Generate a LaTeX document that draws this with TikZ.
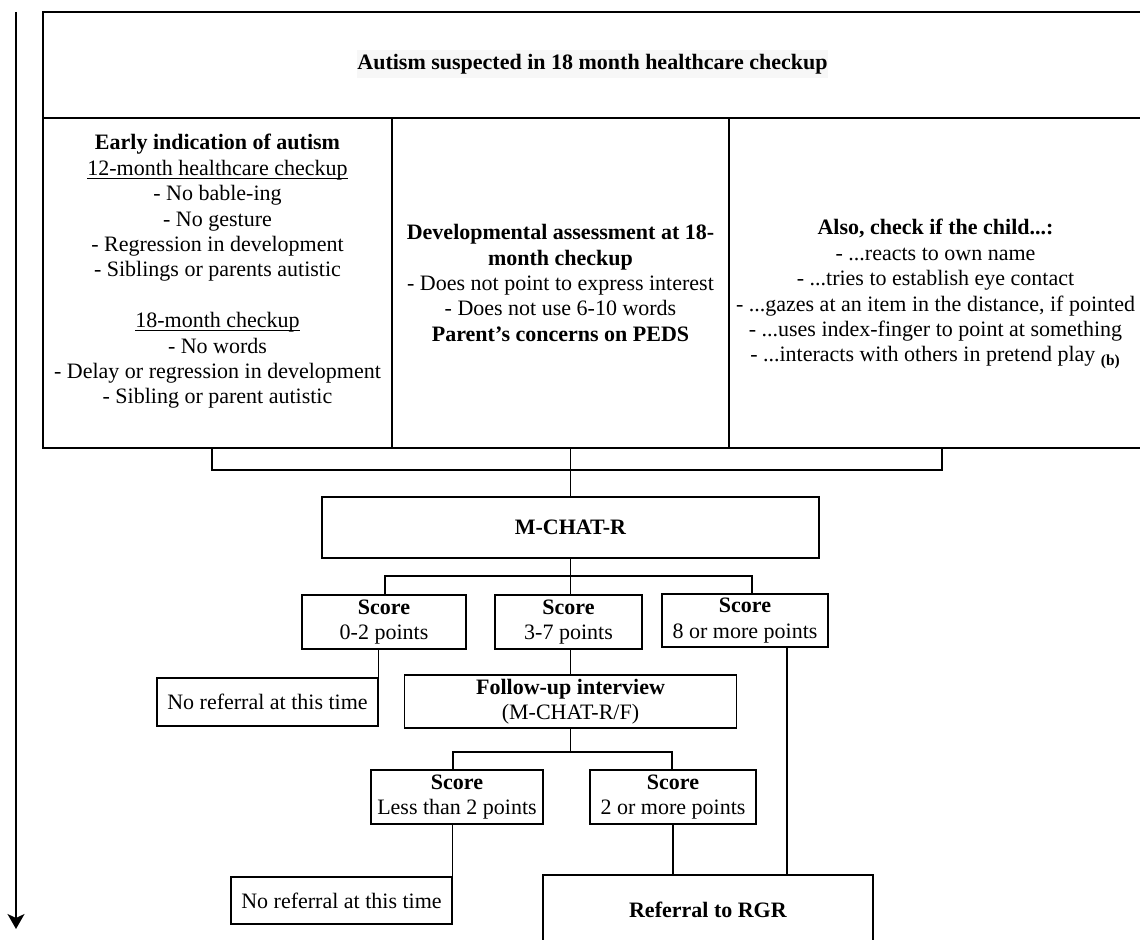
\documentclass[tikz,border=0pt]{standalone}
\usepackage{fontspec}
\setmainfont{Liberation Serif}
\usetikzlibrary{arrows.meta}

\begin{document}
\begin{tikzpicture}[>={Stealth[length=7.5pt,width=8.5pt,inset=2pt]},x=0.5pt,y=-0.5pt,
  box/.style={draw,line width=0.8pt,align=center,inner sep=0pt,
    font=\fontsize{11}{12.7}\selectfont},
  txt/.style={align=center,inner sep=0pt,font=\fontsize{11}{12.7}\selectfont},
  wire/.style={line width=0.6pt}]
  \useasboundingbox (0,0) rectangle (1140,940);
  \clip (0,0) rectangle (1140,940);
  % ---- time axis on the left ----
  \coordinate (ttop) at (16,12);
  \coordinate (tend) at (16,929);
  \draw[->,line width=0.8pt] (ttop) -- (tend);
  % ---- table: suspicion on top, three columns of signs ----
  \node[box,minimum width=549.5pt,minimum height=53pt] (head) at (592.5,65) {};
  \node[box,minimum width=174.5pt,minimum height=165pt] (col1) at (217.5,283) {};
  \node[box,minimum width=168.5pt,minimum height=165pt] (col2) at (560.5,283) {};
  \node[box,minimum width=206.5pt,minimum height=165pt] (col3) at (935.5,283) {};
  \node[txt,fill=black!3,inner ysep=2pt] (suspect) at (592.5,64)
    {\textbf{Autism suspected in 18 month healthcare checkup}};
  \node[txt] (early) at (217.5,271.5)
    {\textbf{Early indication of autism}\\
     \underline{\smash{12-month healthcare checkup}}\\
     - No bable-ing\\
     - No gesture\\
     - Regression in development\\
     - Siblings or parents autistic\\[12.7pt]
     \underline{\smash{18-month checkup}}\\
     - No words\\
     - Delay or regression in development\\
     - Sibling or parent autistic};
  \node[txt] (devel) at (560.5,283)
    {\textbf{Developmental assessment at 18-}\\
     \textbf{month checkup}\\
     - Does not point to express interest\\
     - Does not use 6-10 words\\
     \textbf{Parent's concerns on PEDS}};
  \node[txt] (also) at (935.5,294)
    {\textbf{Also, check if the child...:}\\
     - ...reacts to own name\\
     - ...tries to establish eye contact\\
     - ...gazes at an item in the distance, if pointed\\
     - ...uses index-finger to point at something\\
     - ...interacts with others in pretend play \textsubscript{\textbf{(b)}}};
  % ---- screening ----
  \node[box,minimum width=248.5pt,minimum height=30.5pt] (mchat) at (570.5,527.5)
    {\textbf{M-CHAT-R}};
  \node[box,minimum width=82pt,minimum height=27pt] (scoreLow) at (384,622)
    {\textbf{Score}\\0-2 points};
  \node[box,minimum width=73.5pt,minimum height=27pt] (scoreMid) at (568.5,622)
    {\textbf{Score}\\3-7 points};
  \node[box,minimum width=83pt,minimum height=26.5pt] (scoreHigh) at (745,620.5)
    {\textbf{Score}\\8 or more points};
  \node[box,minimum width=110.5pt,minimum height=24pt] (norefA) at (267.5,702)
    {No referral at this time};
  \node[box,minimum width=166pt,minimum height=26.5pt] (follow) at (570.5,701.5)
    {\textbf{Follow-up interview}\\(M-CHAT-R/F)};
  \node[box,minimum width=86pt,minimum height=27pt] (fuLess) at (457,797)
    {\textbf{Score}\\Less than 2 points};
  \node[box,minimum width=83pt,minimum height=27pt] (fuMore) at (673,797)
    {\textbf{Score}\\2 or more points};
  \node[box,minimum width=110.5pt,minimum height=23.5pt] (norefB) at (341.5,900.5)
    {No referral at this time};
  \node[box,minimum width=165pt,minimum height=35pt] (rgr) at (708,910)
    {\textbf{Referral to RGR}};
  % ---- joints ----
  \coordinate (jl) at (212,470);
  \coordinate (jr) at (942,470);
  \coordinate (sl) at (385,576);
  \coordinate (sr) at (752,576);
  \coordinate (hl) at (787,760);
  \coordinate (fl) at (453,752);
  \coordinate (fr) at (672,752);
  % columns into M-CHAT-R
  \draw[wire] (col1.south -| jl) -- (jl) -- (jr) -- (col3.south -| jr);
  \draw[wire] (col2.south -| mchat) -- (mchat.north);
  % M-CHAT-R into the three scores
  \draw[wire] (mchat.south) -- (scoreMid.north -| mchat);
  \draw[wire] (scoreLow.north -| sl) -- (sl) -- (sr) -- (scoreHigh.north -| sr);
  \draw[wire] (scoreLow.south -| norefA.north east) -- (norefA.north east);
  \draw[wire] (scoreMid.south -| follow) -- (follow.north);
  \draw[wire] (scoreHigh.south -| hl) -- (rgr.north -| hl);
  % follow-up into the two scores
  \draw[wire] (follow.south) -- (follow.south |- fl);
  \draw[wire] (fuLess.north -| fl) -- (fl) -- (fr) -- (fuMore.north -| fr);
  \draw[wire] (fuLess.south -| norefB.north east) -- (norefB.north east);
  \draw[wire] (fuMore.south) -- (rgr.north -| fuMore);
\end{tikzpicture}
\end{document}
